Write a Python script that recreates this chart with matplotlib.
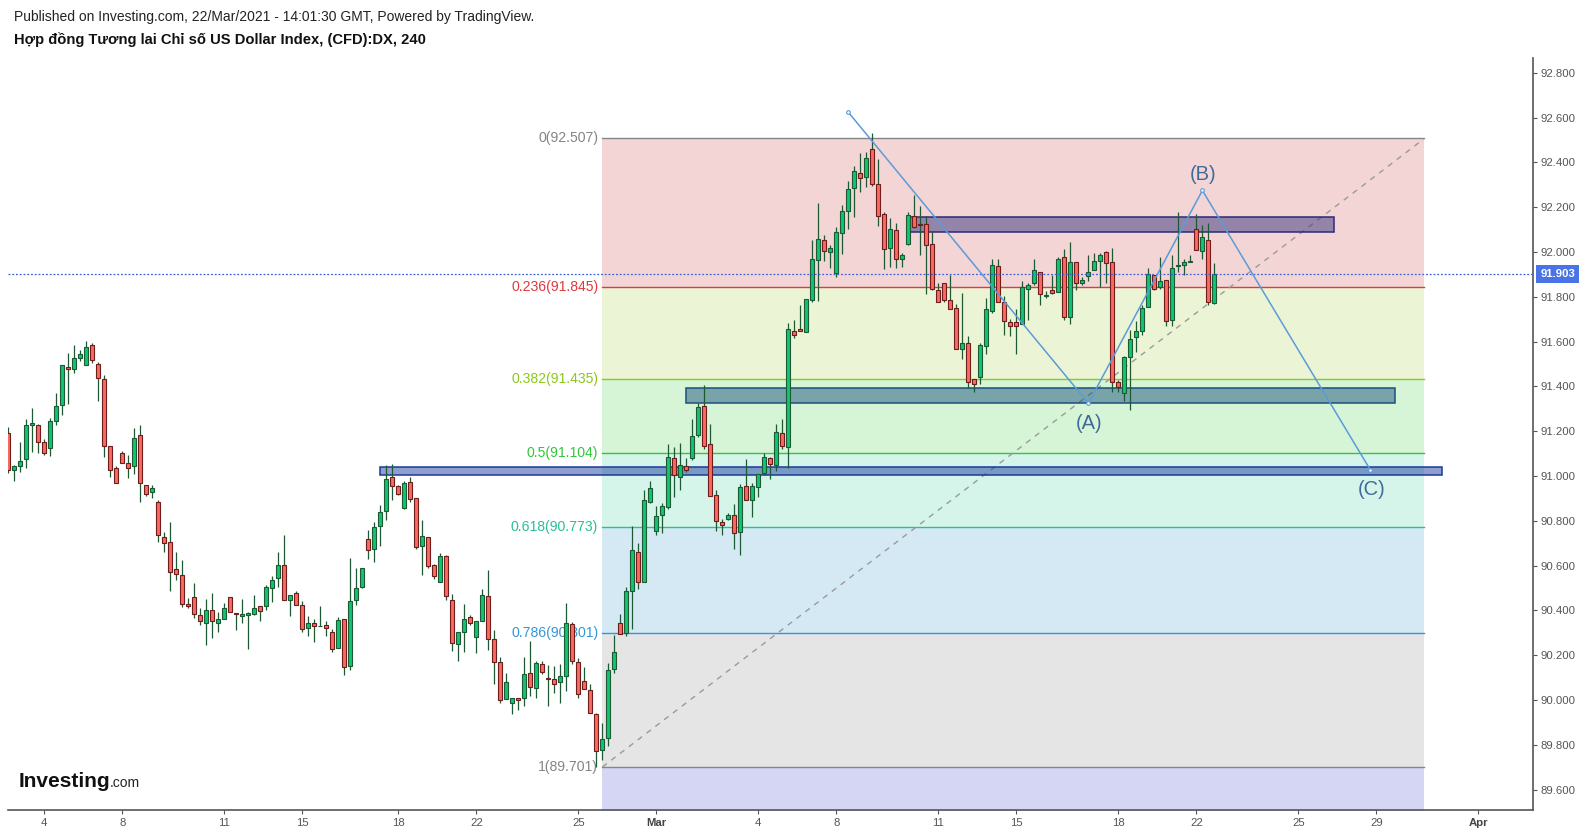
import matplotlib
matplotlib.use("Agg")
import matplotlib.pyplot as plt
from matplotlib.patches import Rectangle

plt.rcParams["font.family"] = ["Liberation Sans", "DejaVu Sans"]

# -------------------------
# DATA (4h candles, bar index = position on the time axis)
# -------------------------
opens = [
    91.193, 91.025, 91.047, 91.074, 91.226, 91.226, 91.150, 91.123, 91.244, 91.315,
    91.485, 91.480, 91.525, 91.494, 91.583, 91.498, 91.431, 91.136, 91.034, 91.105,
    91.056, 91.043, 91.181, 90.962, 90.927, 90.882, 90.730, 90.704, 90.583, 90.556,
    90.427, 90.462, 90.378, 90.346, 90.404, 90.346, 90.360, 90.462, 90.387, 90.373,
    90.378, 90.382, 90.418, 90.418, 90.498, 90.543, 90.601, 90.445, 90.476, 90.422,
    90.320, 90.346, 90.329, 90.337, 90.302, 90.231, 90.360, 90.151, 90.445, 90.503,
    90.718, 90.673, 90.776, 90.843, 90.994, 90.954, 90.856, 90.972, 90.901, 90.686,
    90.726, 90.602, 90.526, 90.642, 90.445, 90.249, 90.302, 90.369, 90.280, 90.352,
    90.463, 90.271, 90.169, 90.003, 89.985, 90.008, 90.008, 90.119, 90.052, 90.160,
    90.097, 90.093, 90.079, 90.106, 90.338, 90.169, 90.084, 90.044, 89.936, 89.776,
    89.829, 90.137, 90.346, 90.297, 90.485, 90.663, 90.529, 90.883, 90.754, 90.825,
    90.861, 91.079, 90.995, 91.044, 91.079, 91.182, 91.312, 91.142, 90.914, 90.794,
    90.807, 90.825, 90.749, 90.954, 90.892, 90.950, 91.012, 91.079, 91.048, 91.191,
    91.128, 91.646, 91.655, 91.642, 91.785, 91.963, 92.053, 91.999, 91.905, 92.084,
    92.182, 92.285, 92.352, 92.334, 92.459, 92.303, 92.169, 92.017, 92.097, 91.968,
    92.035, 92.160, 92.124, 92.124, 92.034, 91.829, 91.864, 91.788, 91.748, 91.565,
    91.596, 91.431, 91.440, 91.579, 91.735, 91.936, 91.779, 91.686, 91.686, 91.677,
    91.837, 91.860, 91.913, 91.806, 91.829, 91.820, 91.976, 91.712, 91.954, 91.860,
    91.891, 91.918, 91.958, 91.998, 91.954, 91.418, 91.369, 91.530, 91.619, 91.646,
    91.753, 91.896, 91.842, 91.873, 91.695, 91.936, 91.940, 91.954, 92.101, 92.003,
    92.056, 91.771,
]
highs = [
    91.217, 91.050, 91.151, 91.254, 91.303, 91.232, 91.165, 91.257, 91.369, 91.494,
    91.549, 91.584, 91.562, 91.601, 91.596, 91.511, 91.453, 91.136, 91.043, 91.110,
    91.093, 91.214, 91.226, 90.962, 90.958, 90.895, 90.748, 90.797, 90.659, 90.623,
    90.454, 90.521, 90.413, 90.449, 90.476, 90.391, 90.431, 90.462, 90.387, 90.449,
    90.391, 90.467, 90.418, 90.512, 90.552, 90.659, 90.735, 90.471, 90.485, 90.440,
    90.373, 90.360, 90.418, 90.355, 90.316, 90.369, 90.360, 90.634, 90.588, 90.588,
    90.758, 90.793, 90.869, 91.048, 91.052, 90.959, 90.976, 90.994, 90.901, 90.802,
    90.726, 90.606, 90.655, 90.646, 90.472, 90.302, 90.427, 90.378, 90.352, 90.494,
    90.579, 90.311, 90.191, 90.119, 90.008, 90.008, 90.191, 90.262, 90.173, 90.173,
    90.155, 90.151, 90.160, 90.432, 90.347, 90.186, 90.146, 90.070, 89.941, 89.896,
    90.164, 90.289, 90.382, 90.503, 90.775, 90.699, 90.936, 90.978, 90.864, 90.879,
    91.143, 91.128, 91.149, 91.079, 91.253, 91.325, 91.407, 91.233, 90.938, 90.807,
    90.834, 90.874, 90.965, 91.075, 90.968, 91.008, 91.102, 91.084, 91.231, 91.253,
    91.682, 91.695, 91.762, 91.789, 92.053, 92.218, 92.075, 92.030, 92.111, 92.209,
    92.316, 92.383, 92.441, 92.445, 92.530, 92.414, 92.178, 92.151, 92.128, 91.995,
    92.178, 92.253, 92.204, 92.160, 92.092, 91.864, 91.864, 91.896, 91.766, 91.815,
    91.623, 91.431, 91.596, 91.793, 91.967, 91.971, 91.806, 91.699, 91.744, 91.869,
    91.860, 91.971, 91.913, 91.824, 91.896, 91.976, 92.012, 92.047, 91.954, 91.887,
    91.985, 91.994, 91.994, 92.003, 92.016, 91.427, 91.538, 91.654, 91.690, 91.762,
    91.927, 91.896, 91.976, 91.873, 91.985, 92.181, 91.971, 91.985, 92.172, 92.119,
    92.128, 91.949,
]
lows = [
    91.014, 90.979, 91.017, 91.037, 91.108, 91.105, 91.095, 91.090, 91.229, 91.273,
    91.323, 91.461, 91.514, 91.494, 91.506, 91.337, 91.083, 90.997, 90.967, 91.056,
    90.992, 91.010, 90.885, 90.913, 90.904, 90.706, 90.662, 90.488, 90.534, 90.416,
    90.413, 90.364, 90.333, 90.245, 90.275, 90.302, 90.360, 90.391, 90.314, 90.345,
    90.230, 90.378, 90.355, 90.404, 90.439, 90.506, 90.445, 90.373, 90.422, 90.302,
    90.288, 90.258, 90.329, 90.285, 90.213, 90.231, 90.110, 90.133, 90.423, 90.499,
    90.628, 90.615, 90.686, 90.802, 90.892, 90.914, 90.851, 90.883, 90.673, 90.557,
    90.588, 90.539, 90.526, 90.445, 90.218, 90.173, 90.213, 90.334, 90.209, 90.352,
    90.222, 90.070, 89.985, 90.003, 89.936, 89.954, 89.972, 90.017, 90.008, 90.115,
    89.972, 90.030, 89.985, 90.039, 90.160, 90.008, 90.048, 89.941, 89.701, 89.730,
    89.794, 90.119, 90.293, 90.284, 90.315, 90.494, 90.529, 90.878, 90.736, 90.745,
    90.852, 90.908, 90.937, 91.017, 91.070, 91.173, 91.120, 90.910, 90.753, 90.736,
    90.804, 90.673, 90.646, 90.892, 90.816, 90.905, 91.003, 90.986, 91.021, 91.120,
    91.035, 91.615, 91.646, 91.642, 91.776, 91.780, 91.959, 91.928, 91.887, 91.990,
    92.102, 92.155, 92.267, 92.289, 92.294, 92.115, 91.923, 91.932, 91.928, 91.932,
    92.030, 92.106, 91.986, 91.812, 91.829, 91.779, 91.775, 91.744, 91.565, 91.521,
    91.391, 91.373, 91.409, 91.543, 91.730, 91.775, 91.628, 91.623, 91.543, 91.677,
    91.695, 91.855, 91.762, 91.797, 91.811, 91.820, 91.695, 91.677, 91.829, 91.855,
    91.869, 91.918, 91.842, 91.864, 91.373, 91.373, 91.333, 91.297, 91.552, 91.628,
    91.753, 91.829, 91.837, 91.672, 91.668, 91.909, 91.896, 91.954, 92.007, 91.971,
    91.762, 91.766,
]
closes = [
    91.026, 91.043, 91.065, 91.226, 91.235, 91.150, 91.101, 91.244, 91.311, 91.494,
    91.476, 91.529, 91.547, 91.578, 91.516, 91.436, 91.132, 91.025, 90.967, 91.056,
    91.038, 91.172, 90.971, 90.922, 90.945, 90.735, 90.699, 90.570, 90.561, 90.427,
    90.418, 90.382, 90.351, 90.404, 90.351, 90.360, 90.409, 90.391, 90.382, 90.382,
    90.387, 90.409, 90.396, 90.503, 90.534, 90.605, 90.445, 90.471, 90.422, 90.315,
    90.346, 90.329, 90.329, 90.320, 90.227, 90.356, 90.146, 90.441, 90.499, 90.588,
    90.668, 90.771, 90.838, 90.985, 90.954, 90.918, 90.968, 90.896, 90.682, 90.731,
    90.597, 90.552, 90.642, 90.463, 90.253, 90.302, 90.360, 90.343, 90.352, 90.468,
    90.271, 90.169, 89.999, 90.079, 90.008, 89.999, 90.115, 90.057, 90.164, 90.124,
    90.096, 90.070, 90.106, 90.343, 90.173, 90.026, 90.048, 89.941, 89.771, 89.825,
    90.133, 90.213, 90.293, 90.485, 90.668, 90.525, 90.895, 90.945, 90.822, 90.865,
    91.084, 91.003, 91.048, 91.026, 91.178, 91.307, 91.133, 90.910, 90.798, 90.780,
    90.825, 90.745, 90.950, 90.892, 90.954, 91.008, 91.084, 91.053, 91.195, 91.133,
    91.655, 91.628, 91.646, 91.789, 91.968, 92.057, 92.003, 92.017, 92.088, 92.182,
    92.280, 92.361, 92.329, 92.419, 92.303, 92.160, 92.012, 92.102, 91.968, 91.986,
    92.164, 92.111, 92.120, 92.030, 91.837, 91.779, 91.784, 91.744, 91.565, 91.592,
    91.418, 91.413, 91.583, 91.744, 91.940, 91.779, 91.690, 91.668, 91.672, 91.846,
    91.851, 91.918, 91.811, 91.806, 91.815, 91.971, 91.712, 91.954, 91.860, 91.873,
    91.913, 91.962, 91.985, 91.949, 91.418, 91.396, 91.530, 91.614, 91.646, 91.748,
    91.904, 91.837, 91.869, 91.690, 91.931, 91.940, 91.954, 91.958, 92.007, 92.065,
    91.779, 91.904,
]

last_price = 91.903

# x-axis labels (bar index where each day label sits)
tick_pos = [6, 19, 36, 49, 65, 78, 95, 108, 125, 138, 155, 168, 185, 198, 215, 228, 245]
tick_labels = ["4", "8", "11", "15", "18", "22", "25", "Mar", "4", "8", "11",
               "15", "18", "22", "25", "29", "Apr"]

# Fibonacci retracement (low bar 99 -> end bar 236)
fib_start, fib_end = 99, 236
fib_ratios = ["0", "0.236", "0.382", "0.5", "0.618", "0.786", "1"]
fib_prices = [92.507, 91.845, 91.435, 91.104, 90.773, 90.301, 89.701]
fib_next = 87.967  # 1.618 level, off screen

# support / resistance boxes: (bar from, bar to, price low, price high)
box_top = (150.3, 220.9, 92.088, 92.155)
box_mid = (112.9, 231.1, 91.326, 91.393)
box_low = (62.0, 239.0, 91.003, 91.040)

# wave path start -> (A) -> (B) -> (C)
wave_x = [140, 180, 199, 227]
wave_y = [92.624, 91.325, 92.275, 91.027]

# -------------------------
# FIGURE
# -------------------------
fig = plt.figure(figsize=(15.85, 8.35), dpi=100)
fig.patch.set_facecolor("white")
ax = fig.add_axes([8 / 1585, 25 / 835, 1525 / 1585, 751.7 / 835])
ax.set_facecolor("white")

ax.set_xlim(-0.05, 254.1)
ax.set_ylim(89.509, 92.865)

# fib zones and lines
zone_colors = ["#f3d5d5", "#ebf5d6", "#d6f5d6", "#d5f5ea", "#d5e9f4", "#e5e5e5", "#d5d5f4"]
line_colors = ["#858585", "#e0393e", "#8cc81e", "#33c63a", "#2bbf98", "#3597d6", "#858585"]
bounds = fib_prices + [fib_next]
for i in range(len(zone_colors)):
    ax.fill_between([fib_start, fib_end], bounds[i + 1], bounds[i],
                    color=zone_colors[i], lw=0, zorder=0)
for r, p, c in zip(fib_ratios, fib_prices, line_colors):
    ax.plot([fib_start, fib_end], [p, p], color=c, lw=1.0, zorder=1)
    ax.annotate(f"{r}({p:.3f})", xy=(fib_start, p), xytext=(-3, 0),
                textcoords="offset points", ha="right", va="center",
                fontsize=10.1, color=c, zorder=1.5)

# diagonal of the fib tool
ax.plot([fib_start, fib_end], [fib_prices[-1], fib_prices[0]], color="#9a9a9a",
        lw=1.0, ls=(0, (4, 4)), zorder=1.6)

# boxes
for (x0, x1, y0, y1), fc, ec in [(box_top, "#37357f", "#2b2b78"),
                                 (box_mid, "#1b537b", "#1f4f80"),
                                 (box_low, "#1f3fa1", "#1a3a9a")]:
    ax.add_patch(Rectangle((x0, y0), x1 - x0, y1 - y0, facecolor=fc, alpha=0.5,
                           lw=0, zorder=2))
    ax.add_patch(Rectangle((x0, y0), x1 - x0, y1 - y0, facecolor="none",
                           edgecolor=ec, lw=1.1, zorder=2.1))

# -------------------------
# CANDLES
# -------------------------
xs = list(range(len(opens)))
up = [c >= o for o, c in zip(opens, closes)]
ax.vlines(xs, lows, highs, color="#1d5a34", lw=0.9, zorder=3)
bottoms = [min(o, c) for o, c in zip(opens, closes)]
heights = [max(abs(c - o), 0.002) for o, c in zip(opens, closes)]
face = ["#0fc472" if u else "#fa6a5e" for u in up]
edge = ["#1d5a34" if u else "#6e1c1c" for u in up]
ax.bar(xs, heights, bottom=bottoms, width=0.68, color=face, edgecolor=edge,
       lw=0.8, zorder=3.5)

# last price line
ax.axhline(last_price, color="#3b5fd8", lw=0.9, ls=(0, (1.5, 1.5)), zorder=4)
ax.annotate(f"{last_price:.3f}", xy=(1, last_price),
            xycoords=("axes fraction", "data"), xytext=(5.2, 0),
            textcoords="offset points", ha="left", va="center", fontsize=8.2,
            fontweight="bold", color="white", annotation_clip=False,
            bbox=dict(boxstyle="square,pad=0.35", fc="#4a73e8", ec="none"))

# wave lines
ax.plot(wave_x, wave_y, color="#5b9bd8", lw=1.1, zorder=5,
        marker="o", ms=2.6, mfc="white", mec="#5b9bd8", mew=0.8)
for (x, y, lab, dy) in [(wave_x[1], wave_y[1], "(A)", -14.4),
                        (wave_x[2], wave_y[2], "(B)", 11.5),
                        (wave_x[3], wave_y[3], "(C)", -14)]:
    ax.annotate(lab, xy=(x, y), xytext=(0.7, dy), textcoords="offset points",
                ha="center", va="center", fontsize=14.5, color="#3f6a9a", zorder=6)

# -------------------------
# AXES
# -------------------------
for s in ["top", "left"]:
    ax.spines[s].set_visible(False)
for s in ["bottom", "right"]:
    ax.spines[s].set_color("#555555")
    ax.spines[s].set_linewidth(1.2)

ax.yaxis.tick_right()
yt = [89.6 + 0.2 * i for i in range(17)]
ax.set_yticks(yt)
ax.set_yticklabels([f"{v:.3f}" for v in yt])
ax.tick_params(axis="y", length=3, width=0.8, color="#555555", pad=2.6,
               labelsize=8.2, labelcolor="#555555")

ax.set_xticks(tick_pos)
ax.set_xticklabels(tick_labels)
ax.tick_params(axis="x", length=3, width=0.8, color="#555555", pad=2.4,
               labelsize=8.2, labelcolor="#555555")
for t in ax.get_xticklabels():
    if t.get_text() in ("Mar", "Apr"):
        t.set_fontweight("bold")
        t.set_color("#444444")

# -------------------------
# HEADER AND LOGO
# -------------------------
fig.text(14 / 1585, 1 - 17 / 835,
         "Published on Investing.com, 22/Mar/2021 - 14:01:30 GMT, Powered by TradingView.",
         fontsize=10.0, color="#222222", va="center", ha="left")
fig.text(14 / 1585, 1 - 40 / 835,
         "Hợp đồng Tương lai Chỉ số US Dollar Index, (CFD):DX, 240",
         fontsize=10.6, fontweight="bold", color="#111111", va="center", ha="left")
fig.text(19 / 1585, 1 - 787 / 835, "Investing", fontsize=15, fontweight="bold",
         color="#111111", va="baseline", ha="left")
fig.text(110 / 1585, 1 - 787 / 835, ".com", fontsize=10, color="#222222",
         va="baseline", ha="left")

fig.savefig("out.png", dpi=100)
